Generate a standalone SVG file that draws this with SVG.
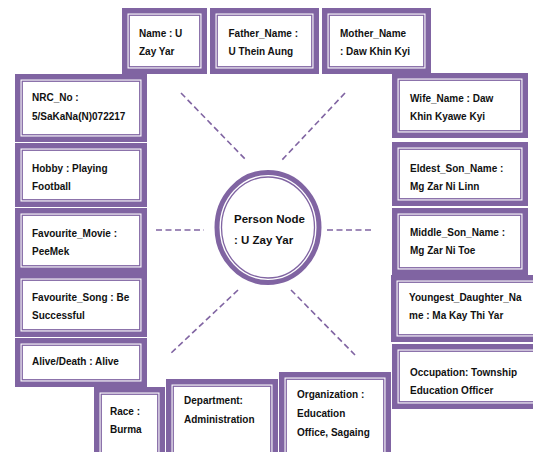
<svg xmlns="http://www.w3.org/2000/svg" width="533" height="452" viewBox="0 0 533 452">
<style>
.bg{fill:#ffffff}
.o{fill:#ffffff;stroke:#8064A2;stroke-width:5.5}
.i{fill:#ffffff;stroke:#8064A2;stroke-width:1.3}
.t{font-family:"Liberation Sans",Arial,sans-serif;font-weight:bold;font-size:10px;fill:#111}
.c{font-family:"Liberation Sans",Arial,sans-serif;font-weight:bold;font-size:11.5px;fill:#111}
.e{fill:none;stroke:#8064A2;stroke-width:1.6;stroke-dasharray:6 3.5}
</style>
<rect class="bg" width="533" height="452"/>
<g id="connectors">
<line class="e" x1="181" y1="93" x2="246" y2="160"/>
<line class="e" x1="345" y1="93" x2="282" y2="160"/>
<line class="e" x1="156" y1="230" x2="204" y2="230"/>
<line class="e" x1="327" y1="230" x2="373" y2="230"/>
<line class="e" x1="238" y1="290" x2="169" y2="355"/>
<line class="e" x1="291" y1="290" x2="355" y2="355"/>
</g>
<g id="person">
<ellipse cx="268" cy="227.5" rx="51" ry="55" fill="#fff" stroke="#8064A2" stroke-width="5"/>
<ellipse cx="268" cy="227.5" rx="46.5" ry="50.5" fill="#fff" stroke="#8064A2" stroke-width="1.3"/>
<text class="c" x="234" y="223">Person Node</text>
<text class="c" x="234" y="244">: U Zay Yar</text>
</g>
<g id="name">
<rect class="o" x="124.75" y="10.75" width="79.5" height="60.5"/>
<rect class="i" x="129.25" y="15.25" width="70.5" height="51.5"/>
<text class="t" x="139" y="37">Name : U</text>
<text class="t" x="139" y="55">Zay Yar</text>
</g>
<g id="father">
<rect class="o" x="212.75" y="10.75" width="103.5" height="60.5"/>
<rect class="i" x="217.25" y="15.25" width="94.5" height="51.5"/>
<text class="t" x="228.5" y="37">Father_Name :</text>
<text class="t" x="228.5" y="55">U Thein Aung</text>
</g>
<g id="mother">
<rect class="o" x="324.75" y="10.75" width="103.5" height="60.5"/>
<rect class="i" x="329.25" y="15.25" width="94.5" height="51.5"/>
<text class="t" x="340" y="37">Mother_Name</text>
<text class="t" x="340" y="55">: Daw Khin Kyi</text>
</g>
<g id="nrc">
<rect class="o" x="17.75" y="76.75" width="126.5" height="62.5"/>
<rect class="i" x="22.25" y="81.25" width="117.5" height="53.5"/>
<text class="t" x="32" y="101">NRC_No :</text>
<text class="t" x="32" y="120">5/SaKaNa(N)072217</text>
</g>
<g id="hobby">
<rect class="o" x="17.75" y="145.75" width="126.5" height="58.5"/>
<rect class="i" x="22.25" y="150.25" width="117.5" height="49.5"/>
<text class="t" x="32" y="172">Hobby : Playing</text>
<text class="t" x="32" y="190">Football</text>
</g>
<g id="movie">
<rect class="o" x="17.75" y="210.75" width="126.5" height="59.5"/>
<rect class="i" x="22.25" y="215.25" width="117.5" height="50.5"/>
<text class="t" x="32" y="237">Favourite_Movie :</text>
<text class="t" x="32" y="255">PeeMek</text>
</g>
<g id="song">
<rect class="o" x="17.75" y="275.75" width="126.5" height="58.5"/>
<rect class="i" x="22.25" y="280.25" width="117.5" height="49.5"/>
<text class="t" x="32" y="301">Favourite_Song : Be</text>
<text class="t" x="32" y="319">Successful</text>
</g>
<g id="alive">
<rect class="o" x="17.75" y="340.75" width="126.5" height="43.5"/>
<rect class="i" x="22.25" y="345.25" width="117.5" height="34.5"/>
<text class="t" x="32" y="365">Alive/Death : Alive</text>
</g>
<g id="wife">
<rect class="o" x="394.75" y="75.75" width="130.5" height="59.5"/>
<rect class="i" x="399.25" y="80.25" width="121.5" height="50.5"/>
<text class="t" x="410" y="102">Wife_Name : Daw</text>
<text class="t" x="410" y="120">Khin Kyawe Kyi</text>
</g>
<g id="eldest">
<rect class="o" x="394.75" y="144.75" width="130.5" height="58.5"/>
<rect class="i" x="399.25" y="149.25" width="121.5" height="49.5"/>
<text class="t" x="410" y="172">Eldest_Son_Name :</text>
<text class="t" x="410" y="190">Mg Zar Ni Linn</text>
</g>
<g id="middle">
<rect class="o" x="394.75" y="210.75" width="130.5" height="61.5"/>
<rect class="i" x="399.25" y="215.25" width="121.5" height="52.5"/>
<text class="t" x="410" y="236">Middle_Son_Name :</text>
<text class="t" x="410" y="254">Mg Zar Ni Toe</text>
</g>
<g id="youngest">
<rect class="o" x="393.75" y="277.75" width="150" height="61.5"/>
<rect class="i" x="398.25" y="282.25" width="150" height="52.5"/>
<text class="t" x="409" y="301">Youngest_Daughter_Na</text>
<text class="t" x="409" y="319">me : Ma Kay Thi Yar</text>
</g>
<g id="occupation">
<rect class="o" x="394.75" y="346.75" width="150" height="59.5"/>
<rect class="i" x="399.25" y="351.25" width="150" height="50.5"/>
<text class="t" x="410" y="376">Occupation: Township</text>
<text class="t" x="410" y="394">Education Officer</text>
</g>
<g id="race">
<rect class="o" x="96.75" y="389.75" width="65.5" height="80"/>
<rect class="i" x="101.25" y="394.25" width="56.5" height="71"/>
<text class="t" x="110" y="415">Race :</text>
<text class="t" x="110" y="433">Burma</text>
</g>
<g id="department">
<rect class="o" x="168.75" y="381.75" width="106.5" height="90"/>
<rect class="i" x="173.25" y="386.25" width="97.5" height="80"/>
<text class="t" x="184" y="404">Department:</text>
<text class="t" x="184" y="423">Administration</text>
</g>
<g id="organization">
<rect class="o" x="281.75" y="374.75" width="106.5" height="95"/>
<rect class="i" x="286.25" y="379.25" width="97.5" height="85"/>
<text class="t" x="297" y="398">Organization :</text>
<text class="t" x="297" y="417">Education</text>
<text class="t" x="297" y="436">Office, Sagaing</text>
</g>
</svg>
